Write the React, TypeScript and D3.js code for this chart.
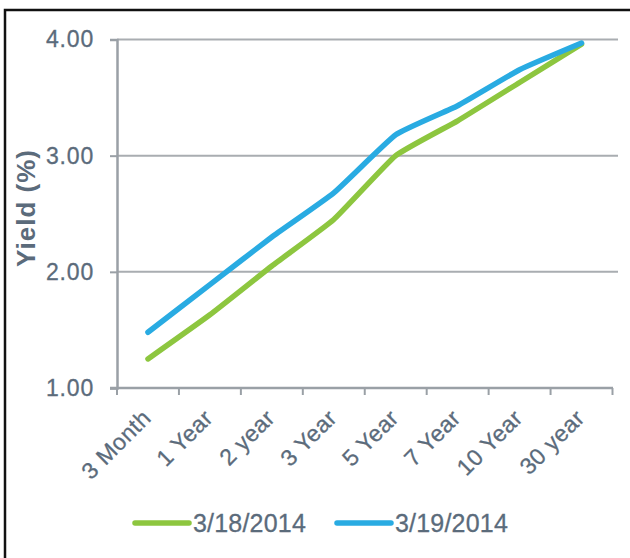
import React, { useRef, useEffect } from 'react';
import * as d3 from 'd3';

// maturities on the x axis
const maturities = ['3 Month', '1 Year', '2 year', '3 Year', '5 Year', '7 Year', '10 Year', '30 year'];

// yields (%)
const yields0318 = [1.25, 1.63, 2.05, 2.45, 3.0, 3.3, 3.63, 3.96];
const yields0319 = [1.48, 1.89, 2.3, 2.68, 3.18, 3.43, 3.74, 3.97];

const yTicks = [1, 2, 3, 4];
const seriesNames = ['3/18/2014', '3/19/2014'];
const seriesColors = ['#8dc63f', '#29abe2'];

const App = () => {
  const svgRef = useRef<SVGSVGElement | null>(null);

  useEffect(() => {
    const width = 630;
    const height = 558;
    const margin = { top: 39.5, left: 117 };
    const textColor = '#5b6b7b';
    const font = 'Arial, "Liberation Sans", sans-serif';

    const svg = d3.select(svgRef.current);
    svg.selectAll('*').remove();
    svg.attr('width', width).attr('height', height);

    svg.append('rect').attr('width', width).attr('height', height).attr('fill', '#fff');

    // frame (only top and left edges are visible in the crop)
    svg.append('path')
      .attr('d', `M5,${height} L5,10 L${width},10`)
      .attr('fill', 'none')
      .attr('stroke', '#111')
      .attr('stroke-width', 2.5);

    const x = d3.scaleBand()
      .domain(maturities)
      .range([margin.left, 612.5]);

    const y = d3.scaleLinear()
      .domain([1, 4])
      .range([388, margin.top]);

    // gridlines
    svg.append('g')
      .selectAll('line')
      .data(yTicks.filter(d => d > 1))
      .enter()
      .append('line')
      .attr('x1', margin.left)
      .attr('x2', 618)
      .attr('y1', d => y(d))
      .attr('y2', d => y(d))
      .attr('stroke', '#a9adb1')
      .attr('stroke-width', 2);

    // y axis
    const yAxis = svg.append('g')
      .attr('transform', `translate(${margin.left},0)`)
      .call(d3.axisLeft(y).tickValues(yTicks).tickSize(7).tickPadding(16).tickFormat(d3.format('.2f')));
    yAxis.select('.domain').attr('stroke', '#9aa0a6').attr('stroke-width', 2.5);
    yAxis.selectAll('.tick line').attr('stroke', '#9aa0a6').attr('stroke-width', 2);
    yAxis.selectAll('.tick text')
      .attr('fill', textColor)
      .attr('stroke', textColor)
      .attr('stroke-width', 0.3)
      .style('font-family', font)
      .style('font-size', '23px')
      .style('letter-spacing', '0.8px');

    // x axis with ticks at the band edges
    const xAxisG = svg.append('g').attr('transform', `translate(0,${y(1)})`);
    xAxisG.append('line')
      .attr('x1', margin.left - 7)
      .attr('x2', 613)
      .attr('stroke', '#9aa0a6')
      .attr('stroke-width', 2.5);
    const edges = maturities.map(m => x(m) as number).concat([x.range()[1]]);
    xAxisG.selectAll('.xtick')
      .data(edges)
      .enter()
      .append('line')
      .attr('class', 'xtick')
      .attr('x1', d => d)
      .attr('x2', d => d)
      .attr('y1', 0)
      .attr('y2', 7)
      .attr('stroke', '#9aa0a6')
      .attr('stroke-width', 2);

    xAxisG.selectAll('.xlabel')
      .data(maturities)
      .enter()
      .append('text')
      .attr('class', 'xlabel')
      .attr('transform', d => `translate(${(x(d) as number) + x.bandwidth() / 2 - 7},${20}) rotate(-45)`)
      .attr('text-anchor', 'end')
      .attr('dy', '0.7em')
      .attr('fill', textColor)
      .attr('stroke', textColor)
      .attr('stroke-width', 0.3)
      .style('font-family', font)
      .style('font-size', '23px')
      .style('letter-spacing', '0.5px')
      .text(d => d);

    // y axis title
    svg.append('text')
      .attr('transform', `translate(35,208) rotate(-90)`)
      .attr('text-anchor', 'middle')
      .attr('fill', textColor)
      .style('font-family', font)
      .style('font-weight', 'bold')
      .style('font-size', '26px')
      .style('letter-spacing', '1px')
      .text('Yield (%)');

    // lines
    const line = d3.line<number>()
      .x((_, i) => (x(maturities[i]) as number) + x.bandwidth() / 2)
      .y(d => y(d))
      .curve(d3.curveCardinal.tension(0.6));

    [yields0318, yields0319].forEach((vals, i) => {
      svg.append('path')
        .datum(vals)
        .attr('d', line)
        .attr('fill', 'none')
        .attr('stroke', seriesColors[i])
        .attr('stroke-width', 5.5)
        .attr('stroke-linecap', 'round')
        .attr('stroke-linejoin', 'round');
    });

    // legend
    const legendX = [135, 337];
    const legend = svg.append('g');
    seriesNames.forEach((name, i) => {
      legend.append('line')
        .attr('x1', legendX[i])
        .attr('x2', legendX[i] + 54)
        .attr('y1', 523)
        .attr('y2', 523)
        .attr('stroke', seriesColors[i])
        .attr('stroke-width', 5.5)
        .attr('stroke-linecap', 'round');
      legend.append('text')
        .attr('x', legendX[i] + 58)
        .attr('y', 523)
        .attr('dy', '0.36em')
        .attr('fill', textColor)
        .attr('stroke', textColor)
        .attr('stroke-width', 0.3)
        .style('font-family', font)
        .style('font-size', '25px')
        .style('letter-spacing', '0.2px')
        .text(name);
    });
  }, []);

  return (
    <svg ref={svgRef} style={{ position: 'absolute', left: 0, top: 0, display: 'block' }}></svg>
  );
};

export default App;
